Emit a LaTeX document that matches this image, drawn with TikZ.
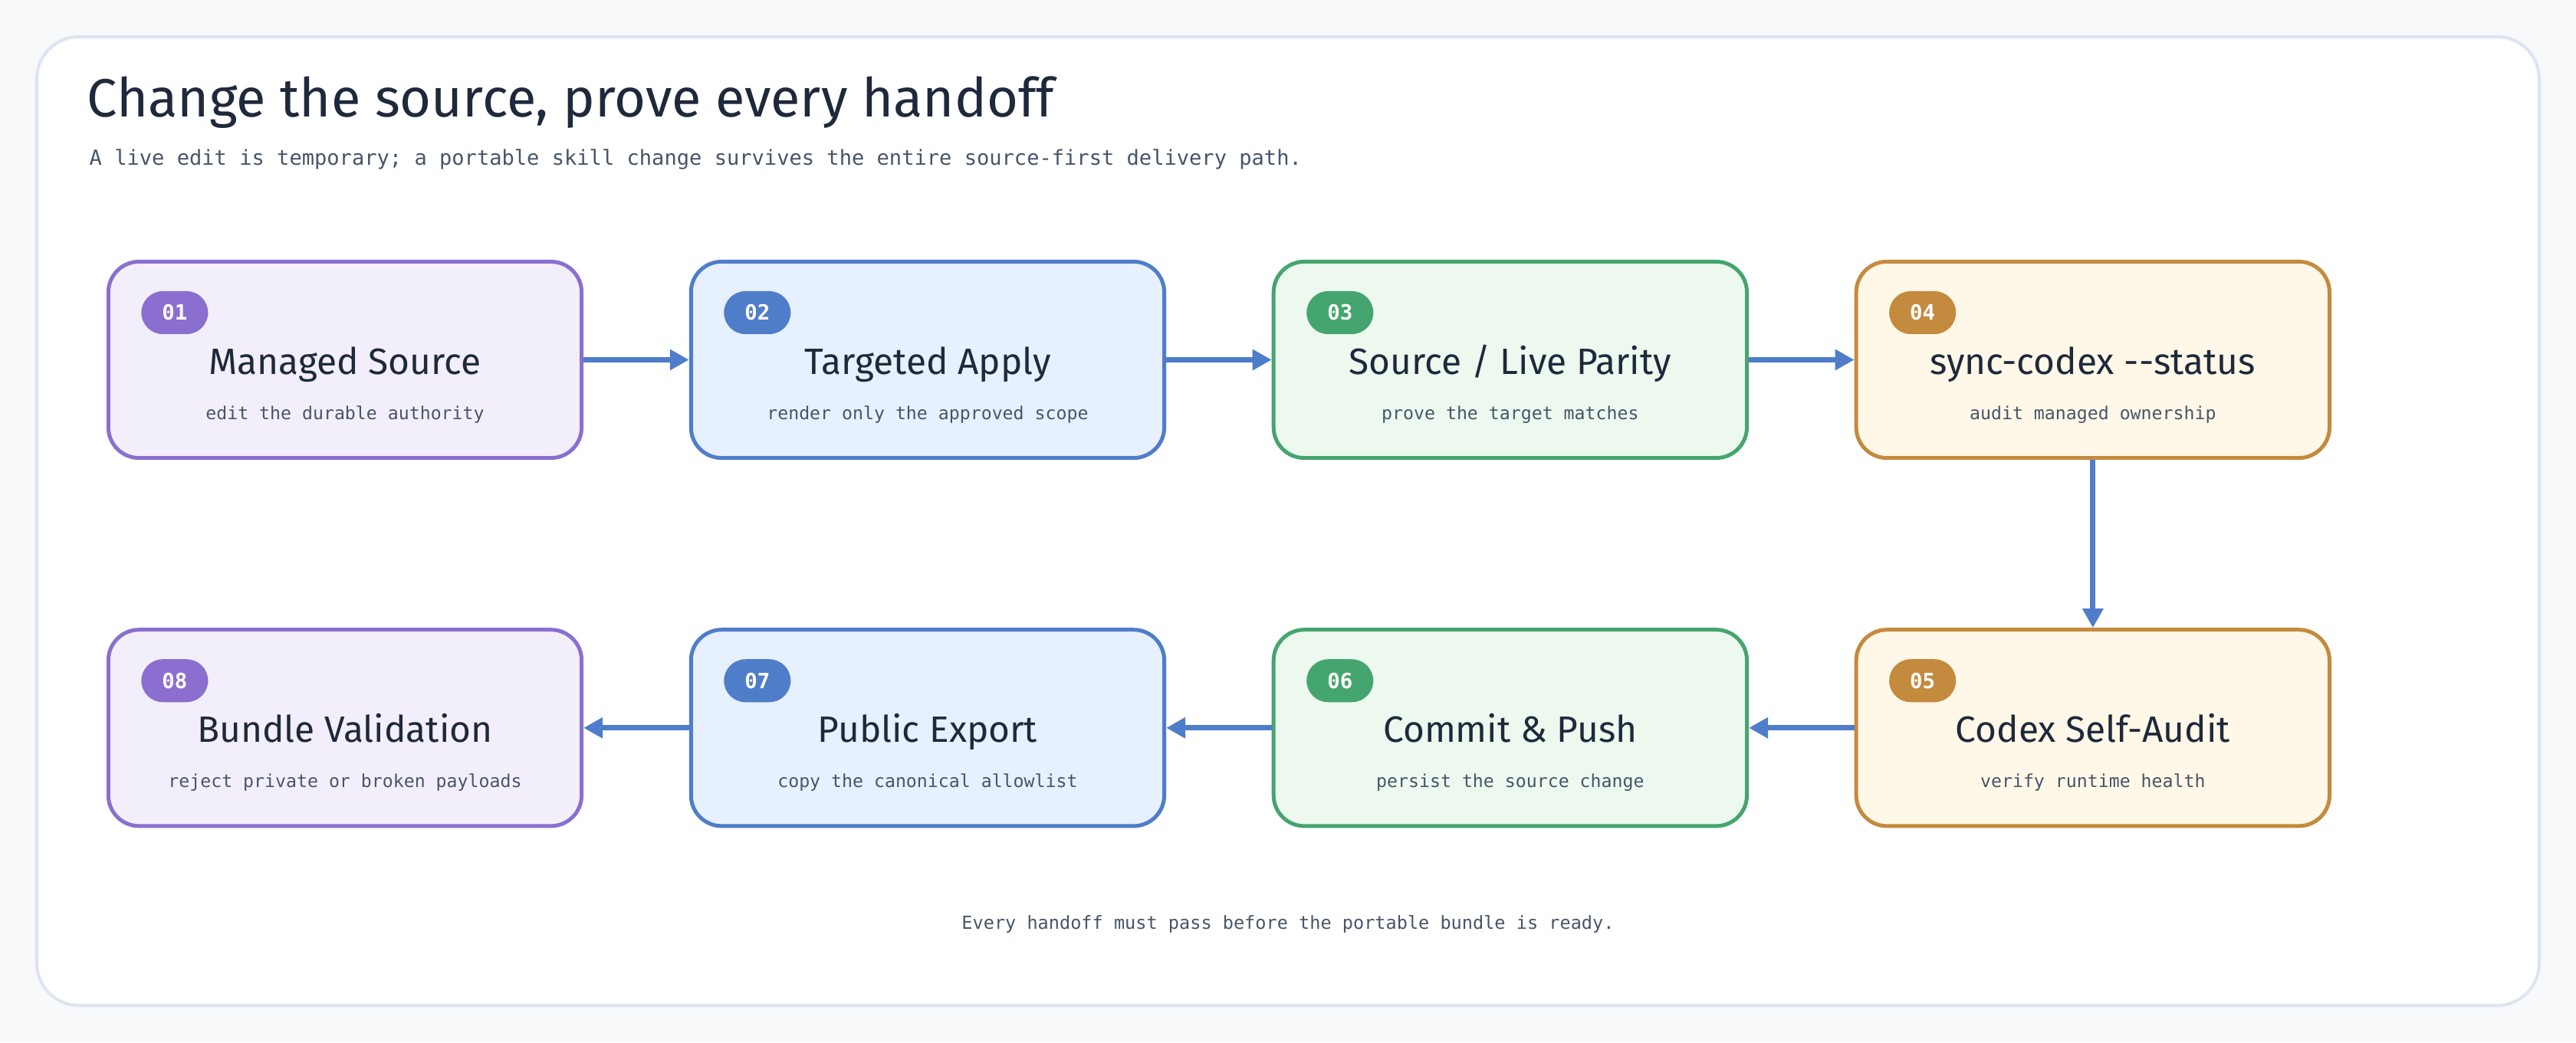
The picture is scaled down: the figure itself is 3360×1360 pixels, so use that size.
\documentclass[tikz,border=0pt]{standalone}
\usepackage{fontspec}
\setmainfont{Fira Sans}
\setmonofont{DejaVu Sans Mono}
\usetikzlibrary{arrows.meta, positioning}

\definecolor{pagebg}{HTML}{F8F9FB}
\definecolor{panelline}{HTML}{DCE5F1}
\definecolor{ink}{HTML}{1E293B}
\definecolor{inksoft}{HTML}{475569}
\definecolor{flow}{HTML}{4F7DC9}
\definecolor{purpleline}{HTML}{8B6FD0}
\definecolor{purplefill}{HTML}{F3EFFA}
\definecolor{blueline}{HTML}{4F7DC9}
\definecolor{bluefill}{HTML}{E6F0FE}
\definecolor{greenline}{HTML}{45A56E}
\definecolor{greenfill}{HTML}{EDF8EF}
\definecolor{orangeline}{HTML}{C48A3E}
\definecolor{orangefill}{HTML}{FFF7E7}

\tikzset{
  card/.style={draw=#1line, fill=#1fill, line width=0.05cm, rounded corners=0.4cm,
    minimum width=6.17cm, minimum height=2.56cm, inner sep=0pt},
  badge/.style={fill=#1line, text=white, rounded corners=0.28cm, minimum width=0.87cm,
    minimum height=0.56cm, inner sep=0pt, font=\ttfamily\bfseries\fontsize{7.8}{9}\selectfont},
  cardtitle/.style={anchor=base, text=ink, font=\fontsize{13.6}{16}\selectfont},
  cardnote/.style={anchor=base, text=inksoft, font=\ttfamily\fontsize{6.6}{8}\selectfont},
  handoff/.style={draw=flow, line width=0.07cm, -{Triangle[length=0.25cm, width=0.26cm]}}
}

% badge, title and note of one card
\newcommand{\cardtext}[5]{%
  \node[badge=#2] (#1-n) at ([xshift=0.89cm, yshift=-0.69cm]#1.north west) {#3};
  \node[cardtitle] (#1-t) at ([yshift=-1.49cm]#1.north) {#4};
  \node[cardnote] (#1-s) at ([yshift=-2.08cm]#1.north) {#5};
}

\begin{document}
\begin{tikzpicture}[x=0.01cm, y=-0.01cm]
    % Page and panel
    \fill[pagebg] (0,0) rectangle (3360,1360);
    \draw[panelline, line width=0.04cm, fill=white, rounded corners=0.55cm] (48,48) rectangle (3312,1312);

    % Heading
    \node[anchor=base west, inner sep=0pt, text=ink, font=\fontsize{20}{22}\selectfont] (title) at (113,152)
        {Change the source, prove every handoff};
    \node[anchor=base west, inner sep=0pt, text=inksoft, font=\ttfamily\fontsize{7.7}{9}\selectfont] (subtitle) at (116,215)
        {A live edit is temporary; a portable skill change survives the entire source-first delivery path.};

    % Top row
    \node[card=purple] (src) at (450,469.5) {};
    \node[card=blue, right=1.375cm of src] (apply) {};
    \node[card=green, right=1.375cm of apply] (parity) {};
    \node[card=orange, right=1.375cm of parity] (status) {};

    % Bottom row
    \node[card=orange, below=2.19cm of status] (audit) {};
    \node[card=green, left=1.375cm of audit] (commit) {};
    \node[card=blue, left=1.375cm of commit] (export) {};
    \node[card=purple, left=1.375cm of export] (bundle) {};

    \cardtext{src}{purple}{01}{Managed Source}{edit the durable authority}
    \cardtext{apply}{blue}{02}{Targeted Apply}{render only the approved scope}
    \cardtext{parity}{green}{03}{Source / Live Parity}{prove the target matches}
    \cardtext{status}{orange}{04}{sync-codex {-}{-}status}{audit managed ownership}
    \cardtext{audit}{orange}{05}{Codex Self-Audit}{verify runtime health}
    \cardtext{commit}{green}{06}{Commit \& Push}{persist the source change}
    \cardtext{export}{blue}{07}{Public Export}{copy the canonical allowlist}
    \cardtext{bundle}{purple}{08}{Bundle Validation}{reject private or broken payloads}

    % Handoffs
    \draw[handoff] (src) -- (apply);
    \draw[handoff] (apply) -- (parity);
    \draw[handoff] (parity) -- (status);
    \draw[handoff] (status) -- (audit);
    \draw[handoff] (audit) -- (commit);
    \draw[handoff] (commit) -- (export);
    \draw[handoff] (export) -- (bundle);

    % Footer
    \node[anchor=base, inner sep=0pt, text=inksoft, font=\ttfamily\fontsize{6.7}{8}\selectfont] (footer) at (1680,1212)
        {Every handoff must pass before the portable bundle is ready.};
\end{tikzpicture}
\end{document}
